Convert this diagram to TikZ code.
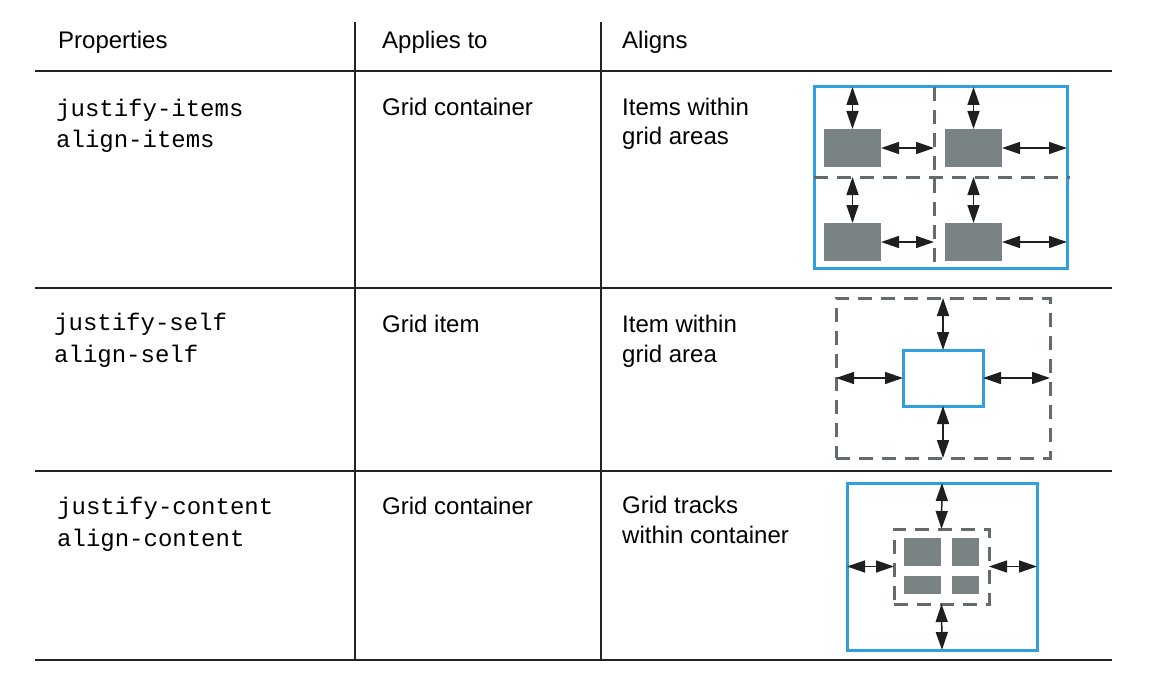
\documentclass[tikz,border=0pt]{standalone}
\usepackage{fontspec}
\setmainfont{Liberation Sans}
\setmonofont{Liberation Mono}
\usetikzlibrary{arrows.meta, positioning}
\usepackage{xcolor}
\definecolor{gridblue}{RGB}{47,160,221}
\tikzset{bluebox/.style={rectangle, draw=gridblue, line width=3pt, outer sep=0pt, inner sep=0pt}}
\definecolor{trackgray}{RGB}{99,107,107}
\tikzset{dashbox/.style={rectangle, draw=trackgray, line width=3pt, dash pattern=on 14pt off 9pt, outer sep=0pt, inner sep=0pt},
dashline/.style={draw=trackgray, line width=3pt, dash pattern=on 14pt off 9pt}}
\definecolor{itemgray}{RGB}{122,131,131}
\tikzset{itembox/.style={rectangle, fill=itemgray, outer sep=0pt, inner sep=0pt}}
\definecolor{rulegray}{RGB}{35,35,35}

\begin{document}
\begin{tikzpicture}[
                x=1pt, y=-1pt,
                rule/.style={draw=rulegray, line width=1.5pt},
                celltext/.style={anchor=base west, inner sep=0pt, align=left, font=\fontsize{24}{29.5}\selectfont},
                codetext/.style={anchor=base west, inner sep=0pt, align=left, font=\ttfamily\fontsize{24}{31.5}\selectfont},
                gap/.style={{Triangle[length=18pt, width=12pt]}-{Triangle[length=18pt, width=12pt]}, line width=1.5pt, draw=black!88}
            ]
                \useasboundingbox (0,0) rectangle (1175,682);

                % Table rules
                \foreach \y in {71, 288, 471, 660} {
\draw[rule] (35,\y) -- (1112,\y);
}
                \foreach \x in {355, 601} {
\draw[rule] (\x,22) -- (\x,660);
}

                % Header
                \node[celltext] (hprop) at (58,49) {Properties};
                \node[celltext] (happlies) at (382,49) {Applies to};
                \node[celltext] (haligns) at (622,49) {Aligns};

                % Texts (base is the last line)
                \node[codetext] (propitems) at (56,148) {justify-items\\align-items};
                \node[celltext] (appitems) at (382,116) {Grid container};
                \node[celltext] (alignitems) at (622,145) {Items within\\grid areas};

                \node[codetext] (propself) at (54,362) {justify-self\\align-self};
                \node[celltext] (appself) at (382,332) {Grid item};
                \node[celltext] (alignself) at (622,362) {Item within\\grid area};

                \node[codetext] (propcontent) at (57,546) {justify-content\\align-content};
                \node[celltext] (appcontent) at (382,514) {Grid container};
                \node[celltext] (aligncontent) at (622,543) {Grid tracks\\within container};

                % Items within grid areas
                \node[bluebox, minimum width=253, minimum height=181] (areas) at (940.5,177.5) {};
                \coordinate (midcol) at (934,87);
                \coordinate (midrow) at (814,177);
                \coordinate (rowend) at (1070,177);
                \draw[dashline] (midcol) -- (midcol |- areas.south);
                \draw[dashline] (midrow) -- (rowend);
                \node[itembox, minimum width=57, minimum height=38] (item1) at (852.5,148) {};
                \node[itembox, minimum width=57, minimum height=38] (item2) at (973.5,148) {};
                \node[itembox, minimum width=57, minimum height=38] (item3) at (852.5,242) {};
                \node[itembox, minimum width=57, minimum height=38] (item4) at (973.5,242) {};
                \draw[gap] (item1.north) -- (item1.north |- areas.north);
                \draw[gap] (item2.north) -- (item2.north |- areas.north);
                \draw[gap] (item3.north) -- (item3.north |- midrow);
                \draw[gap] (item4.north) -- (item4.north |- midrow);
                \draw[gap] (item1.east) -- (item1.east -| midcol);
                \draw[gap] (item3.east) -- (item3.east -| midcol);
                \draw[gap] (item2.east) -- (item2.east -| areas.east);
                \draw[gap] (item4.east) -- (item4.east -| areas.east);

                % Item within grid area
                \node[dashbox, minimum width=214, minimum height=160] (area) at (943,378) {};
                \node[bluebox, minimum width=80, minimum height=56] (self) at (943,378) {};
                \draw[gap] (self.north) -- (area.north);
                \draw[gap] (self.south) -- (area.south);
                \draw[gap] (self.west) -- (area.west);
                \draw[gap] (self.east) -- (area.east);

                % Grid tracks within container
                \node[bluebox, minimum width=190, minimum height=167] (container) at (942,566.5) {};
                \node[dashbox, minimum width=95, minimum height=75] (tracks) at (941.5,566.5) {};
                \node[itembox, minimum width=37, minimum height=28] (trackA) at (922.5,552) {};
                \node[itembox, minimum width=27, minimum height=28] (trackB) at (965.5,552) {};
                \node[itembox, minimum width=37, minimum height=18] (trackC) at (922.5,585) {};
                \node[itembox, minimum width=27, minimum height=18] (trackD) at (965.5,585) {};
                \draw[gap] (tracks.north) -- (container.north);
                \draw[gap] (tracks.south) -- (container.south);
                \draw[gap] (tracks.west) -- (container.west);
                \draw[gap] (tracks.east) -- (container.east);
            \end{tikzpicture}
\end{document}
